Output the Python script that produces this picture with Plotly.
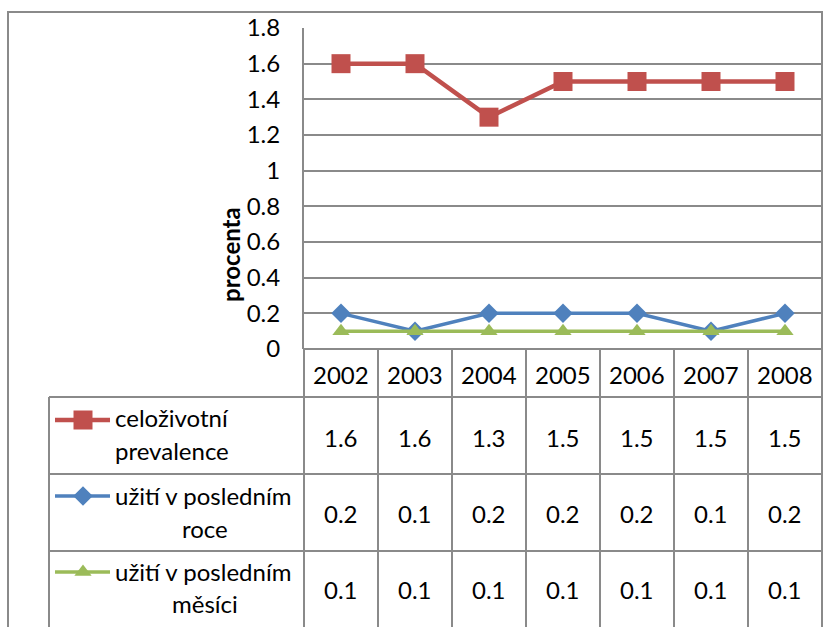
import plotly.graph_objects as go

years = ["2002", "2003", "2004", "2005", "2006", "2007", "2008"]
lifetime = [1.6, 1.6, 1.3, 1.5, 1.5, 1.5, 1.5]
last_year = [0.2, 0.1, 0.2, 0.2, 0.2, 0.1, 0.2]
last_month = [0.1, 0.1, 0.1, 0.1, 0.1, 0.1, 0.1]
series_names = ["celoživotní prevalence", "užití v posledním roce", "užití v posledním měsíci"]
y_title = "procenta"

W, H = 823, 627
FONT = "Lato, Calibri, 'Open Sans', sans-serif"
FS = 24
GRID = "#8a8a8a"
colors = ["#C0504D", "#4F81BD", "#9BBB59"]
symbols = ["square", "diamond", "triangle-up"]
msizes = [19, 15, 15]
lwidths = [4.5, 3.5, 3.5]
series = [lifetime, last_year, last_month]

# layout geometry (pixels)
PL, PR, PT, PB = 304, 822, 28, 349
row_edges = [349, 397, 474, 551, 640]
n = len(years)
col_w = (PR - PL) / n
col_center = [PL + (i + 0.5) * col_w for i in range(n)]

fig = go.Figure()
for vals, name, c, s, ms, lw in zip(series, series_names, colors, symbols, msizes, lwidths):
    fig.add_trace(go.Scatter(x=years, y=vals, name=name, mode="lines+markers",
                             line=dict(color=c, width=lw),
                             marker=dict(symbol=s, size=ms, color=c, line=dict(width=0)),
                             xaxis="x", yaxis="y", showlegend=False, hoverinfo="x+y"))

shapes = []
annotations = []
# outer chart border
shapes.append(dict(type="rect", xref="x2", yref="y2", x0=8, y0=12, x1=822, y1=640,
                   line=dict(color=GRID, width=2), layer="below"))
# table horizontal lines
shapes.append(dict(type="line", xref="x2", yref="y2", x0=PL, x1=PR, y0=row_edges[0], y1=row_edges[0],
                   line=dict(color=GRID, width=2)))
for ry in row_edges[1:4]:
    shapes.append(dict(type="line", xref="x2", yref="y2", x0=49, x1=PR, y0=ry, y1=ry,
                       line=dict(color=GRID, width=2)))
# table vertical lines (category boundaries)
for i in range(n + 1):
    xx = PL + i * col_w
    shapes.append(dict(type="line", xref="x2", yref="y2", x0=xx, x1=xx,
                       y0=row_edges[0], y1=row_edges[-1], line=dict(color=GRID, width=2)))
shapes.append(dict(type="line", xref="x2", yref="y2", x0=49, x1=49, y0=row_edges[1], y1=row_edges[-1],
                   line=dict(color=GRID, width=2)))

# header labels
for xc, yr in zip(col_center, years):
    annotations.append(dict(x=xc, y=(row_edges[0] + row_edges[1]) / 2 + 1, xref="x2", yref="y2",
                            text=yr, showarrow=False, font=dict(family=FONT, size=FS, color="black")))
# values
val_y = [437, 513, 589]
for r, vals in enumerate(series):
    for xc, v in zip(col_center, vals):
        annotations.append(dict(x=xc, y=val_y[r], xref="x2", yref="y2", text=f"{v:.1f}", showarrow=False,
                                font=dict(family=FONT, size=FS, color="black")))

# legend cells: symbol + wrapped label
legend_lines = [("celoživotní", "prevalence"), ("užití v posledním", "roce"), ("užití v posledním", "měsíci")]
sym_y = [420, 496, 572]
line1_y = [417, 495, 571]
line2_y = [450, 528, 603]
line2_x = [113, 205, 205]
for r in range(3):
    fig.add_trace(go.Scatter(x=[55, 110], y=[sym_y[r], sym_y[r]], mode="lines",
                             line=dict(color=colors[r], width=lwidths[r]),
                             xaxis="x2", yaxis="y2", showlegend=False, hoverinfo="skip"))
    fig.add_trace(go.Scatter(x=[83], y=[sym_y[r]], mode="markers",
                             marker=dict(symbol=symbols[r], size=msizes[r], color=colors[r]),
                             xaxis="x2", yaxis="y2", showlegend=False, hoverinfo="skip"))
    annotations.append(dict(x=113, y=line1_y[r], xref="x2", yref="y2", xanchor="left",
                            text=legend_lines[r][0], showarrow=False,
                            font=dict(family=FONT, size=FS, color="black")))
    annotations.append(dict(x=line2_x[r], y=line2_y[r], xref="x2", yref="y2",
                            xanchor="left" if r == 0 else "center",
                            text=legend_lines[r][1], showarrow=False,
                            font=dict(family=FONT, size=FS, color="black")))

# axis title
annotations.append(dict(x=230, y=255, xref="x2", yref="y2", text=f"<b>{y_title}</b>", textangle=-90,
                        showarrow=False, font=dict(family=FONT, size=FS, color="black")))

fig.update_layout(
    template="none",
    width=W, height=H, autosize=False,
    margin=dict(l=0, r=0, t=0, b=0, pad=0, autoexpand=False),
    paper_bgcolor="white", plot_bgcolor="rgba(0,0,0,0)",
    font=dict(family=FONT, size=FS, color="black"),
    xaxis=dict(type="category", domain=[PL / W, PR / W], range=[-0.5, 6.5], anchor="y", automargin=False,
               showticklabels=False, showgrid=False, zeroline=False, showline=False, fixedrange=True),
    yaxis=dict(domain=[1 - PB / H, 1 - PT / H], range=[0, 1.8], dtick=0.2, anchor="x", automargin=False,
               showgrid=True, gridcolor=GRID, gridwidth=2, zeroline=False,
               showline=True, linecolor=GRID, linewidth=2, ticks="",
               ticklabelstandoff=17, tickfont=dict(family=FONT, size=FS, color="black"), fixedrange=True),
    xaxis2=dict(domain=[0, 1], range=[0, W], anchor="y2", visible=False, fixedrange=True, automargin=False),
    yaxis2=dict(domain=[0, 1], range=[H, 0], anchor="x2", visible=False, fixedrange=True, automargin=False),
    shapes=shapes, annotations=annotations,
)

fig.write_html("out.html", config={"displayModeBar": False},
               post_script="document.body.style.margin='0';document.body.style.overflow='hidden';")
